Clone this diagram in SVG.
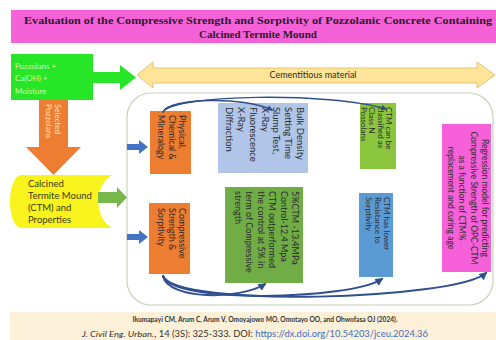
<svg xmlns="http://www.w3.org/2000/svg" width="496" height="340" viewBox="0 0 496 340">
<style>
.t{font-family:Lato,"Liberation Sans",sans-serif;fill:#2b2b2b}
.s9{font-size:9px}
.s8{font-size:8px}
.title{font-family:"Liberation Serif","Times New Roman",serif;font-weight:bold;font-size:11px;fill:#2b1a2b}
.conn{fill:none;stroke:#2f4f8f;stroke-width:2;stroke-linecap:round}
.thin{stroke-width:1.5}
.bluearrow{fill:#4472c4}
</style>
<defs>
<marker id="ah" viewBox="0 0 10 10" refX="8" refY="5" markerWidth="4" markerHeight="4" orient="auto">
<path d="M0,0 L10,5 L0,10 z" fill="#2f4f8f"/>
</marker>
</defs>
<rect width="496" height="340" fill="#ffffff"/>

<g id="title">
<rect x="11" y="10" width="485" height="33" fill="#f562d8"/>
<text class="title" x="258" y="24" text-anchor="middle" textLength="468" lengthAdjust="spacingAndGlyphs">Evaluation of the Compressive Strength and Sorptivity of Pozzolanic Concrete Containing</text>
<text class="title" x="258" y="38" text-anchor="middle">Calcined Termite Mound</text>
</g>

<g id="container">
<rect x="127" y="93" width="366" height="212" rx="24" fill="#ffffff" stroke="#c8d2bc" stroke-width="1.2"/>
</g>

<g id="pozzolans">
<rect x="11" y="54" width="82" height="46" fill="#27e627"/>
<polygon points="93,72 120,72 120,65 136,77.5 120,90 120,83 93,83" fill="#27e627"/>
<text class="t s8" style="fill:#d4f5a6" x="15" y="69">Pozzolans  +</text>
<text class="t s8" style="fill:#d4f5a6" x="15" y="81">Ca(OH) +</text>
<text class="t s8" style="fill:#d4f5a6" x="15" y="94">Moisture</text>
</g>

<g id="selected">
<polygon points="39,100 68,100 68,147 81,147 53.5,175 26,147 39,147" fill="#ed7d31"/>
<text class="t s8" style="fill:#fde3cf" transform="translate(55,104) rotate(90)">Selected<tspan x="0" dy="9">Pozzolans</tspan></text>
</g>

<g id="ctm">
<path d="M22,175 H112 C94,185 94,218 112,228 H22 C6,228 6,175 22,175 Z" fill="#f8f31d"/>
<text class="t" style="font-size:9.5px;fill:#3a3a1a" x="28" y="187">Calcined</text>
<text class="t" style="font-size:9.5px;fill:#3a3a1a" x="28" y="199">Termite Mound</text>
<text class="t" style="font-size:9.5px;fill:#3a3a1a" x="28" y="211">(CTM) and</text>
<text class="t" style="font-size:9.5px;fill:#3a3a1a" x="28" y="223">Properties</text>
<polygon points="98,192 117,192 117,187 127,197.5 117,208 117,203 98,203" fill="#77b84c"/>
</g>

<g id="cementitious">
<polygon points="137,75 153,62 153,68 477,68 477,62 495,75 477,88 477,83 153,83 153,88" fill="#ffe59a" stroke="#e2b75a" stroke-width="0.8"/>
<text class="t s9" x="313" y="78" text-anchor="middle">Cementitious material</text>
</g>

<g id="inarrows">
<polygon class="bluearrow" points="127,144 139,144 139,140 148,147 139,154 139,150 127,150"/>
<polygon class="bluearrow" points="127,234 139,234 139,230 148,237 139,244 139,240 127,240"/>
</g>

<g id="physical">
<rect x="150" y="111" width="41" height="63" fill="#ed7d31"/>
<text class="t s9" transform="translate(179,115) rotate(90)">Physical,<tspan x="0" dy="10.5">Chemical &amp;</tspan><tspan x="0" dy="10.5">Mineralogy</tspan></text>
</g>

<g id="compressive">
<rect x="149" y="203" width="41" height="71" fill="#ed7d31"/>
<text class="t s9" transform="translate(179,208) rotate(90)">Compressive<tspan x="0" dy="10.5">Strength &amp;</tspan><tspan x="0" dy="10.5">Sorptivity</tspan></text>
</g>

<g id="tests">
<rect x="218" y="103" width="90" height="70" fill="#b0c5e8"/>
<text class="t" style="font-size:9.5px" transform="translate(297,107) rotate(90)">Bulk Density<tspan x="0" dy="11.8">Setting Time</tspan><tspan x="0" dy="11.8">Slump Test,</tspan><tspan x="0" dy="11.8">X-Ray</tspan><tspan x="0" dy="11.8">Fluorescence</tspan><tspan x="0" dy="11.8">X-Ray</tspan><tspan x="0" dy="11.8">Diffraction</tspan></text>
</g>

<g id="classn">
<rect x="360" y="103" width="36" height="66" fill="#8cc63f"/>
<text class="t s8" transform="translate(386,107) rotate(90)">CTM can be<tspan x="0" dy="8.5">classified as</tspan><tspan x="0" dy="8.5">Class N</tspan><tspan x="0" dy="8.5">Possolans</tspan></text>
</g>

<g id="result">
<rect x="225" y="187" width="78" height="96" fill="#70ad47"/>
<text class="t s9" transform="translate(292,191) rotate(90)">5%CTM -13.4MPa<tspan x="0" dy="11.5">Control-12.4 Mpa</tspan><tspan x="0" dy="11.5">CTM outperformed</tspan><tspan x="0" dy="11.5">the control at 5% in</tspan><tspan x="0" dy="11.5">term of Compressive</tspan><tspan x="0" dy="11.5">strength</tspan></text>
</g>

<g id="sorptivity">
<rect x="359" y="193" width="34" height="84" fill="#5b9bd5"/>
<text class="t s8" transform="translate(384,197) rotate(90)">CTM has lower<tspan x="0" dy="9">Resistance to</tspan><tspan x="0" dy="9">Sorptivity</tspan></text>
</g>

<g id="regression">
<rect x="442" y="124" width="49" height="148" fill="#f660d8"/>
<text class="t" style="font-size:8.5px" text-anchor="middle" transform="translate(482,198) rotate(90)">Regression model for predicting<tspan x="0" dy="11.5">Compressive Strength of OPC-CTM</tspan><tspan x="0" dy="11.5">as a function of CTM%</tspan><tspan x="0" dy="11.5">replacement and curing age</tspan></text>
</g>

<g id="connectors">
<path class="conn thin" d="M163,112 C168,98 245,96 272,110" marker-end="url(#ah)"/>
<path class="conn thin" d="M163,112 C175,94 330,92 386,109" marker-end="url(#ah)"/>
<path class="conn" d="M163,276 C168,300 240,300 265,284" marker-end="url(#ah)"/>
<path class="conn" d="M163,276 C172,304 350,300 382,279" marker-end="url(#ah)"/>
<path class="conn" d="M163,276 C176,308 455,300 486,273" marker-end="url(#ah)"/>
</g>

<g id="footer">
<rect x="10" y="312" width="486" height="28" fill="#fdf0d8"/>
<text class="t" style="font-size:7.8px;font-weight:bold;fill:#333" x="265" y="322" text-anchor="middle" textLength="265" lengthAdjust="spacingAndGlyphs">Ikumapayi CM, Arum C, Arum V, Omoyajowo MO, Omotayo OO, and Ohwofasa OJ (2024).</text>
<text class="t" style="font-size:8.5px;fill:#333" x="82" y="337" textLength="346" lengthAdjust="spacingAndGlyphs"><tspan font-style="italic">J. Civil Eng. Urban.</tspan>, 14 (3S): 325-333. DOI: <tspan style="fill:#3d6fc2">https://dx.doi.org/10.54203/jceu.2024.36</tspan></text>
</g>
</svg>
